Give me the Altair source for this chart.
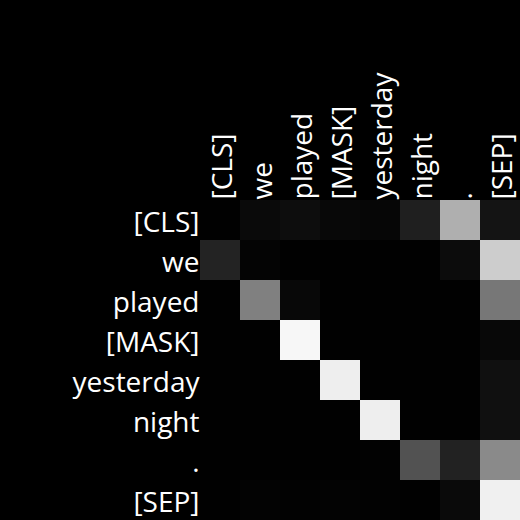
import altair as alt
import pandas as pd

tokens = ["[CLS]", "we", "played", "[MASK]", "yesterday", "night", ".", "[SEP]"]

# attention weights (row = query token, column = key token), read as gray level / 255
row_cls = [0.004, 0.039, 0.051, 0.031, 0.024, 0.122, 0.686, 0.078]
row_we = [0.137, 0.016, 0.004, 0.004, 0.004, 0.004, 0.047, 0.804]
row_played = [0.004, 0.502, 0.031, 0.004, 0.004, 0.004, 0.004, 0.467]
row_mask = [0.004, 0.004, 0.969, 0.004, 0.004, 0.004, 0.004, 0.031]
row_yesterday = [0.004, 0.004, 0.004, 0.933, 0.004, 0.004, 0.004, 0.063]
row_night = [0.004, 0.004, 0.004, 0.004, 0.933, 0.004, 0.004, 0.063]
row_dot = [0.004, 0.004, 0.004, 0.004, 0.008, 0.322, 0.133, 0.541]
row_sep = [0.004, 0.012, 0.008, 0.012, 0.008, 0.004, 0.039, 0.941]

rows = [row_cls, row_we, row_played, row_mask, row_yesterday, row_night, row_dot, row_sep]

records = []
for qi, r in enumerate(rows):
    for ki, v in enumerate(r):
        records.append({"query": tokens[qi], "key": tokens[ki], "weight": v})
df = pd.DataFrame(records)

chart = (
    alt.Chart(df)
    .mark_rect()
    .encode(
        x=alt.X(
            "key:N",
            sort=tokens,
            scale=alt.Scale(paddingInner=0, paddingOuter=0),
            axis=alt.Axis(
                orient="top",
                title=None,
                labelAngle=-90,
                labelAlign="left",
                labelBaseline="middle",
                labelPadding=1,
                labelOffset=4,
                ticks=False,
                domain=False,
                grid=False,
                labelFont="Open Sans",
                labelFontSize=28,
                labelColor="#ffffff",
                labelOverlap=False,
                labelLimit=0,
            ),
        ),
        y=alt.Y(
            "query:N",
            sort=tokens,
            scale=alt.Scale(paddingInner=0, paddingOuter=0),
            axis=alt.Axis(
                title=None,
                labelPadding=1,
                labelOffset=4,
                ticks=False,
                domain=False,
                grid=False,
                labelFont="Open Sans",
                labelFontSize=28,
                labelColor="#ffffff",
                labelOverlap=False,
                labelLimit=0,
            ),
        ),
        color=alt.Color(
            "weight:Q",
            scale=alt.Scale(domain=[0, 1], range=["#000000", "#ffffff"], interpolate="rgb"),
            legend=None,
        ),
    )
    .properties(
        width=320,
        height=320,
        autosize=alt.AutoSizeParams(type="none"),
        padding={"left": 200, "top": 200, "right": 0, "bottom": 0},
        background="#000000",
    )
    .configure_view(stroke=None)
)

chart.save("out.html", embed_options={"renderer": "svg", "actions": False})
